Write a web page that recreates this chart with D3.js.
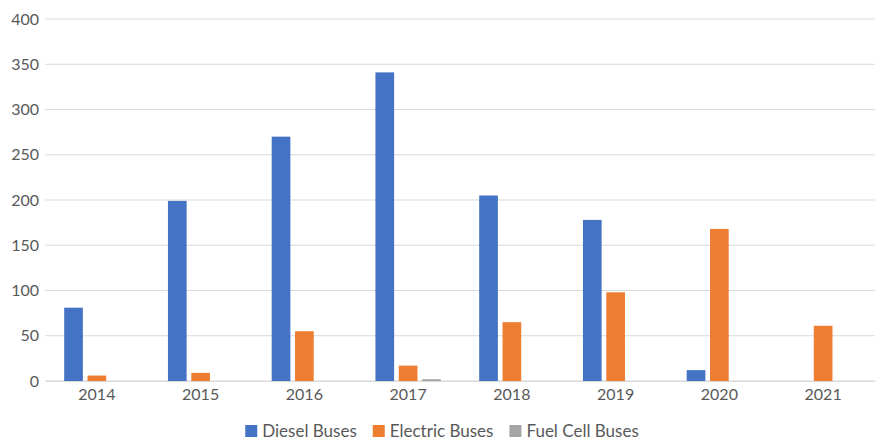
<!DOCTYPE html>
<html lang="en">
<head>
<meta charset="UTF-8">
<title>Buses by year</title>
<script src="https://d3js.org/d3.v7.min.js"></script>
<style>
  body { margin: 0; background: #fff; }
  text { font-family: Lato, "Open Sans", sans-serif; fill: #595959; }
</style>
</head>
<body>
<script>
// data
var years = ['2014', '2015', '2016', '2017', '2018', '2019', '2020', '2021'];
var series = ['Diesel Buses', 'Electric Buses', 'Fuel Cell Buses'];
var diesel = [81, 199, 270, 341, 205, 178, 12, 0];
var electric = [6, 9, 55, 17, 65, 98, 168, 61];
var fuelCell = [0, 0, 0, 2, 0, 0, 0, 0];
var yTicks = [0, 50, 100, 150, 200, 250, 300, 350, 400];
var colors = ['#4472C4', '#ED7D31', '#A5A5A5'];

var width = 879, height = 441;
var margin = {top: 19, right: 4, bottom: 60, left: 45};

var svg = d3.select('body').append('svg').attr('width', width).attr('height', height);

var x0 = d3.scaleBand().domain(years)
    .range([margin.left, width - margin.right])
    .paddingInner(0.37).paddingOuter(0.185);
var x1 = d3.scaleBand().domain(series)
    .range([0, x0.bandwidth()])
    .paddingInner(0.2);
var y = d3.scaleLinear().domain([0, 400]).range([height - margin.bottom, margin.top]);
var color = d3.scaleOrdinal().domain(series).range(colors);

// gridlines
svg.append('g')
    .selectAll('line').data(yTicks).join('line')
    .attr('x1', margin.left).attr('x2', width - margin.right)
    .attr('y1', d => y(d)).attr('y2', d => y(d))
    .attr('stroke', '#d9d9d9').attr('stroke-width', 1);

// y axis labels
var yAxis = svg.append('g')
    .attr('transform', 'translate(' + (margin.left - 6) + ',0)')
    .call(d3.axisLeft(y).tickValues(yTicks).tickSize(0).tickPadding(0));
yAxis.select('.domain').remove();
yAxis.selectAll('text').attr('font-size', 16).style('fill', '#595959');

// bars
var rows = years.map((yr, i) => ({year: yr, values: [diesel[i], electric[i], fuelCell[i]]}));
svg.append('g')
    .selectAll('g').data(rows).join('g')
    .attr('transform', d => 'translate(' + x0(d.year) + ',0)')
    .selectAll('rect')
    .data(d => d.values.map((v, j) => ({key: series[j], value: v})).filter(e => e.value > 0))
    .join('rect')
    .attr('x', d => x1(d.key))
    .attr('y', d => y(d.value))
    .attr('width', x1.bandwidth())
    .attr('height', d => y(0) - y(d.value))
    .attr('fill', d => color(d.key));

// x axis
var xAxis = svg.append('g')
    .attr('transform', 'translate(0,' + y(0) + ')')
    .call(d3.axisBottom(x0).tickSize(0).tickPadding(8));
xAxis.select('.domain').attr('stroke', '#d9d9d9');
xAxis.selectAll('text').attr('font-size', 16).style('fill', '#595959');

// legend
var legend = svg.append('g');
var lx = 0;
series.forEach(function (s, i) {
    var item = legend.append('g').attr('transform', 'translate(' + lx + ',0)');
    item.append('rect').attr('x', 0).attr('y', -6).attr('width', 12).attr('height', 12)
        .attr('fill', colors[i]);
    var t = item.append('text').attr('x', 17).attr('y', 0).attr('dy', '0.35em')
        .attr('font-size', 17).text(s);
    lx += 17 + t.node().getComputedTextLength() + 16;
});
lx -= 16;
legend.attr('transform', 'translate(' + (442 - lx / 2) + ',431)');
</script>
</body>
</html>
